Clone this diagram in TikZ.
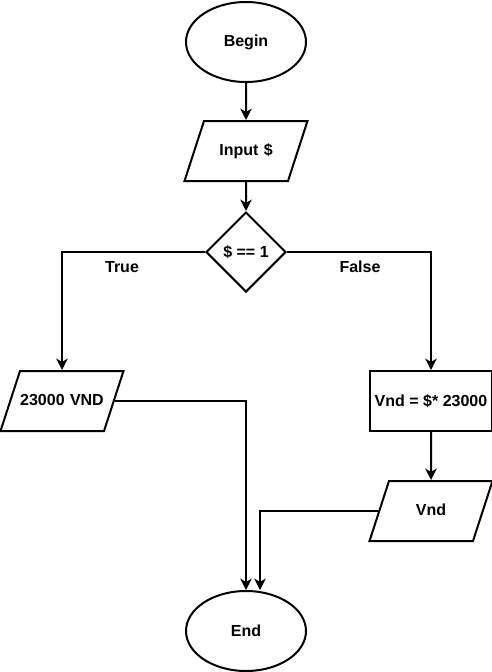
\documentclass[tikz,border=0pt]{standalone}
\usepackage{fontspec}
\setmainfont{Liberation Sans}
\usetikzlibrary{positioning,shapes.geometric,arrows.meta}

\begin{document}
\begin{tikzpicture}[
x=0.75pt, y=-0.75pt,
every node/.style={font=\bfseries\fontsize{12}{14}\selectfont},
term/.style={ellipse, draw, line width=1.5pt, minimum width=90pt, minimum height=60pt, inner sep=0pt},
io/.style={trapezium, trapezium left angle=72, trapezium right angle=108, draw, line width=1.5pt, text width=63pt, align=center, text height=9pt, text depth=3pt, inner xsep=0pt, inner ysep=16.5pt},
proc/.style={rectangle, draw, line width=1.5pt, minimum width=90pt, minimum height=45pt},
dec/.style={diamond, draw, line width=1.5pt, minimum width=60pt, minimum height=60pt, inner sep=0pt},
arr/.style={line width=1.5pt, -{Stealth[length=8.5pt,width=8.5pt,inset=2.5pt]}},
elbow/.style={to path={-| (\tikztotarget)}},
]
\useasboundingbox (0,0) rectangle (492,672);

\node[term] (begin) at (246,42) {Begin};
\node[io] (in) at (246,151) {Input \$};
\node[dec] (cond) at (246,252) {\$ == 1};
\node[io] (usd) at (62,401) {23000 VND};
\node[proc] (calc) at (431,401) {Vnd = \$* 23000};
\node[io] (vnd) at (431,511) {Vnd};
\node[term] (end) at (246,631) {End};

\node (yes) at (122,267) {True};
\node (no) at (360,267) {False};

\path[arr]
(begin) edge (in)
(in) edge (cond)
(cond.west) edge[elbow] (usd.north)
(cond.east) edge[elbow] (calc.north)
(usd.east) edge[elbow] (end.north)
(calc) edge (vnd)
(vnd.west) edge[elbow] ([xshift=10.5pt]end.north)
;
\end{tikzpicture}
\end{document}
